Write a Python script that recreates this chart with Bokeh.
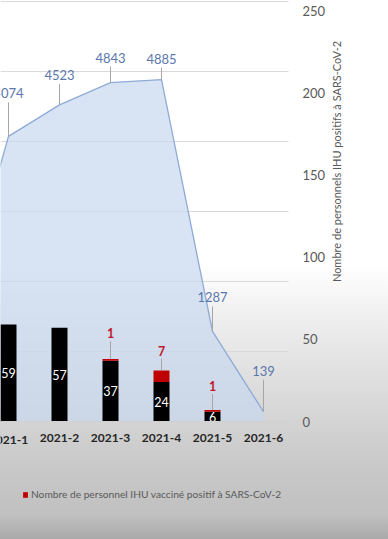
import math
from bokeh.plotting import figure
from bokeh.models import (ColumnDataSource, LinearAxis, Range1d, FixedTicker,
                          Legend, LegendItem)
from bokeh.core.properties import value
from bokeh.embed import file_html
from bokeh.resources import INLINE

# ---------------- data ----------------
months = ["2020-12", "2021-1", "2021-2", "2021-3", "2021-4", "2021-5", "2021-6"]
ihu_total = [1520, 4074, 4523, 4843, 4885, 1287, 139]        # area, left (hidden) axis
unvaccinated = [None, 59, 57, 37, 24, 6, 0]                   # black bars, right axis
vaccinated = [None, 0, 0, 1, 7, 1, 0]                         # red bars, right axis
right_ticks = [0, 50, 100, 150, 200, 250]
left_grid = [1000, 2000, 3000, 4000, 5000, 6000]

legend_label = "Nombre de personnel IHU vacciné positif à SARS-CoV-2"
axis_title = "Nombre de personnels IHU positifs à SARS-CoV-2"

# ---------------- layout (pixels) ----------------
W, H = 388, 539
BORDER_R, BORDER_B = 42, 36
FRAME_W, FRAME_H = W - BORDER_R, H - BORDER_B
BASE_Y = 421           # px of the value-0 baseline
PLOT_R = 288           # px where the gridlines / axis line stop
STEP = 51.0            # px per category
FIRST_X = 8.0          # px position of "2021-1"
LEFT_TOP = 6015        # left-axis value at the top pixel row
RIGHT_TOP = 256.1      # right-axis value at the top pixel row
FONT = "Lato"
px_left = LEFT_TOP / BASE_Y
px_right = RIGHT_TOP / BASE_Y

area_label_dy = [0, 43, 30, 25, 21, 34, 41]      # label centre above point, px
red_label_dy = [0, 0, 0, 26, 20, 24, 0]

x0 = 1 - FIRST_X / STEP
x1 = x0 + FRAME_W / STEP
x_plot_r = x0 + PLOT_R / STEP


def xpx(px):
    return x0 + px / STEP


def ypx(py):
    return (BASE_Y - py) * px_left


p = figure(width=W, height=H, output_backend="svg", toolbar_location=None,
           x_range=Range1d(x0, x1),
           y_range=Range1d(-(FRAME_H - BASE_Y) * px_left, LEFT_TOP),
           y_axis_location=None,
           min_border_left=0, min_border_top=0, min_border_right=BORDER_R,
           min_border_bottom=BORDER_B,
           background_fill_color=None, border_fill_color=None, outline_line_color=None,
           styles={"background": "linear-gradient(to bottom, #ffffff 0px, #ffffff 265px, "
                                 "#eeeeee 320px, #dcdcdc 390px, #cbcbcb 455px, "
                                 "#c0c0c0 515px, #a9a9a9 539px)"})
p.extra_y_ranges = {"right": Range1d(-(FRAME_H - BASE_Y) * px_right, RIGHT_TOP)}
p.xgrid.visible = False
p.ygrid.visible = False

idx = list(range(len(months)))

# horizontal gridlines of the (hidden) left axis
p.segment(x0=[x0] * len(left_grid), y0=left_grid, x1=[x_plot_r] * len(left_grid),
          y1=left_grid, line_color="#d9d9d9", line_width=1)

# area
src_area = ColumnDataSource(dict(x=idx, y=ihu_total))
p.varea(x="x", y1=0, y2="y", source=src_area, fill_color="#c8d9f0", fill_alpha=0.7)
p.line(x="x", y="y", source=src_area, line_color="#8eaad6", line_width=1.3)

# area labels + leaders
lab_x, lab_y, lab_t, seg_y0, seg_y1 = [], [], [], [], []
for i, v in enumerate(ihu_total):
    if area_label_dy[i] <= 0:
        continue
    lab_x.append(i)
    lab_y.append(v + area_label_dy[i] * px_left)
    lab_t.append(str(v))
    seg_y0.append(v)
    seg_y1.append(v + (area_label_dy[i] - 9) * px_left)
p.segment(x0=lab_x, y0=seg_y0, x1=lab_x, y1=seg_y1, line_color="#a6a6a6", line_width=1)
p.text(x=lab_x, y=lab_y, text=lab_t, text_align="center", text_baseline="middle",
       text_font=value(FONT), text_font_size="13px", text_color="#5b77ad")

# bars
bx, bun, bva, btop = [], [], [], []
for i in idx:
    if unvaccinated[i] is None:
        continue
    bx.append(i)
    bun.append(unvaccinated[i])
    bva.append(vaccinated[i])
    btop.append(unvaccinated[i] + vaccinated[i])
src_bar = ColumnDataSource(dict(x=bx, un=bun, va=bva, top=btop))
BW = 16 / STEP
p.vbar(x="x", bottom=0, top="un", width=BW, source=src_bar, fill_color="#000000",
       line_color=None, y_range_name="right")
red = p.vbar(x="x", bottom="un", top="top", width=BW, source=src_bar, fill_color="#c00000",
             line_color=None, y_range_name="right")

# white labels inside black bars
wx = [x for x, u in zip(bx, bun) if u > 0]
wy = [u / 2 for u in bun if u > 0]
wt = [str(u) for u in bun if u > 0]
p.text(x=wx, y=wy, text=wt, text_align="center", text_baseline="middle",
       text_font=value(FONT), text_font_size="12.5px", text_color="#ffffff",
       y_range_name="right")

# red labels + leaders
rx, ry, rt, ry0, ry1 = [], [], [], [], []
for x, va, top in zip(bx, bva, btop):
    if va > 0:
        rx.append(x)
        ry.append(top + red_label_dy[x] * px_right)
        rt.append(str(va))
        ry0.append(top)
        ry1.append(top + (red_label_dy[x] - 8) * px_right)
p.segment(x0=rx, y0=ry0, x1=rx, y1=ry1, line_color="#a6a6a6", line_width=1,
          y_range_name="right")
p.text(x=rx, y=ry, text=rt, text_align="center", text_baseline="middle",
       text_font=value(FONT), text_font_size="12.5px", text_font_style="bold",
       text_color="#c0182e", y_range_name="right")

# x axis (drawn on the value-0 baseline); the category cut by the left edge
# is written as clipped text so that it is not pushed inside the picture
first_full = 2
xa = p.xaxis[0]
xa.ticker = FixedTicker(ticks=idx)
xa.major_label_overrides = {i: (m if i >= first_full else "") for i, m in enumerate(months)}
xa.fixed_location = 0
xa.bounds = (x0, x_plot_r)
xa.axis_line_color = "#d0d0d0"
xa.major_tick_line_color = None
xa.major_tick_out = 0
xa.major_tick_in = 0
xa.minor_tick_line_color = None
xa.major_label_text_font = FONT
xa.major_label_text_font_style = "bold"
xa.major_label_text_font_size = "12px"
xa.major_label_text_color = "#262626"
xa.major_label_standoff = 12

cut_idx = [i for i in idx if x0 - 0.5 < i < first_full]
p.text(x=cut_idx, y=[ypx(439)] * len(cut_idx), text=[months[i] for i in cut_idx],
       text_align="center", text_baseline="middle", text_font=value(FONT),
       text_font_size="12px", text_font_style="bold", text_color="#262626")

# right axis (drawn where the plot area ends)
ra = LinearAxis(y_range_name="right", ticker=FixedTicker(ticks=right_ticks))
ra.fixed_location = x_plot_r
ra.axis_line_color = None
ra.major_tick_line_color = None
ra.major_tick_out = 0
ra.major_tick_in = 0
ra.minor_tick_line_color = None
ra.major_label_text_font = FONT
ra.major_label_text_font_size = "13px"
ra.major_label_text_color = "#595959"
ra.major_label_standoff = 14
p.add_layout(ra, "right")

# right axis title
p.text(x=[xpx(336)], y=[ypx(161)], text=[axis_title], angle=math.pi / 2,
       text_align="center", text_baseline="middle", text_font=value(FONT),
       text_font_size="11px", text_color="#595959")

# legend
leg = Legend(items=[LegendItem(label=legend_label, renderers=[red])],
             location=(22, FRAME_H - 500), orientation="horizontal",
             glyph_width=6, glyph_height=7, label_standoff=3,
             label_text_font=FONT, label_text_font_size="10.2px", label_text_color="#595959",
             border_line_color=None, background_fill_alpha=0, padding=0, margin=0,
             label_height=10)
p.add_layout(leg)

open("out.html", "w").write(file_html(p, INLINE))
